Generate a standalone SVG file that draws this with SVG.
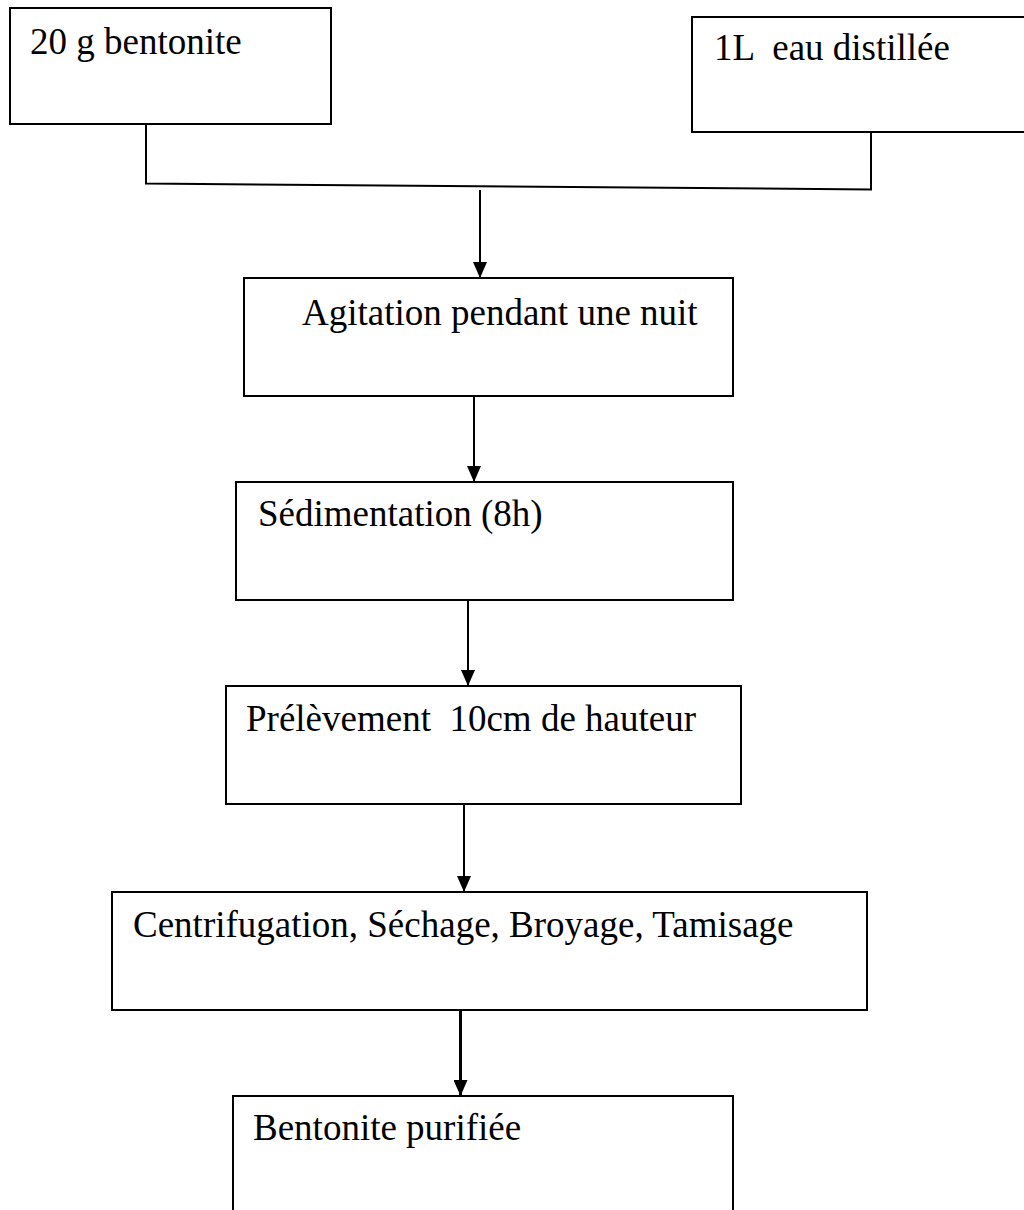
<svg xmlns="http://www.w3.org/2000/svg" width="1024" height="1210" viewBox="0 0 1024 1210">
<defs>
<style>
.box{fill:#fff;stroke:#000;stroke-width:2}
.lbl{font-family:"Liberation Serif","Times New Roman",serif;font-size:37px;fill:#000;white-space:pre}
.con{fill:none;stroke:#000;stroke-width:2}
</style>
<marker id="ah" markerWidth="16" markerHeight="14" refX="16" refY="7" orient="auto" markerUnits="userSpaceOnUse" viewBox="0 0 16 14">
<path d="M0,0 L16,7 L0,14 Z" fill="#000"/>
</marker>
</defs>
<rect width="1024" height="1210" fill="#fff"/>
<g id="n1"><rect class="box" x="10" y="8" width="321" height="116"/><text class="lbl" x="30" y="54">20 g bentonite</text></g>
<g id="n2"><rect class="box" x="692" y="17" width="340" height="115"/><text class="lbl" x="714" y="60" xml:space="preserve">1L  eau distillée</text></g>
<g id="n3"><rect class="box" x="244" y="278" width="489" height="118"/><text class="lbl" x="302" y="325">Agitation pendant une nuit</text></g>
<g id="n4"><rect class="box" x="236" y="482" width="497" height="118"/><text class="lbl" x="258" y="526">Sédimentation (8h)</text></g>
<g id="n5"><rect class="box" x="226" y="686" width="515" height="118"/><text class="lbl" x="246" y="731" xml:space="preserve">Prélèvement  10cm de hauteur</text></g>
<g id="n6"><rect class="box" x="112" y="892" width="755" height="118"/><text class="lbl" x="133" y="937">Centrifugation, Séchage, Broyage, Tamisage</text></g>
<g id="n7"><rect class="box" x="233" y="1096" width="500" height="130"/><text class="lbl" x="253" y="1140">Bentonite purifiée</text></g>
<g id="connectors">
<path class="con" d="M146,124 V183.5 L871,189.5 V132"/>
<line class="con" x1="480" y1="190" x2="480" y2="278" marker-end="url(#ah)"/>
<line class="con" x1="474" y1="396" x2="474" y2="482" marker-end="url(#ah)"/>
<line class="con" x1="468" y1="600" x2="468" y2="686" marker-end="url(#ah)"/>
<line class="con" x1="464" y1="804" x2="464" y2="892" marker-end="url(#ah)"/>
<line class="con" x1="460.5" y1="1010" x2="460.5" y2="1096" marker-end="url(#ah)" style="stroke-width:3"/>
</g>
</svg>
